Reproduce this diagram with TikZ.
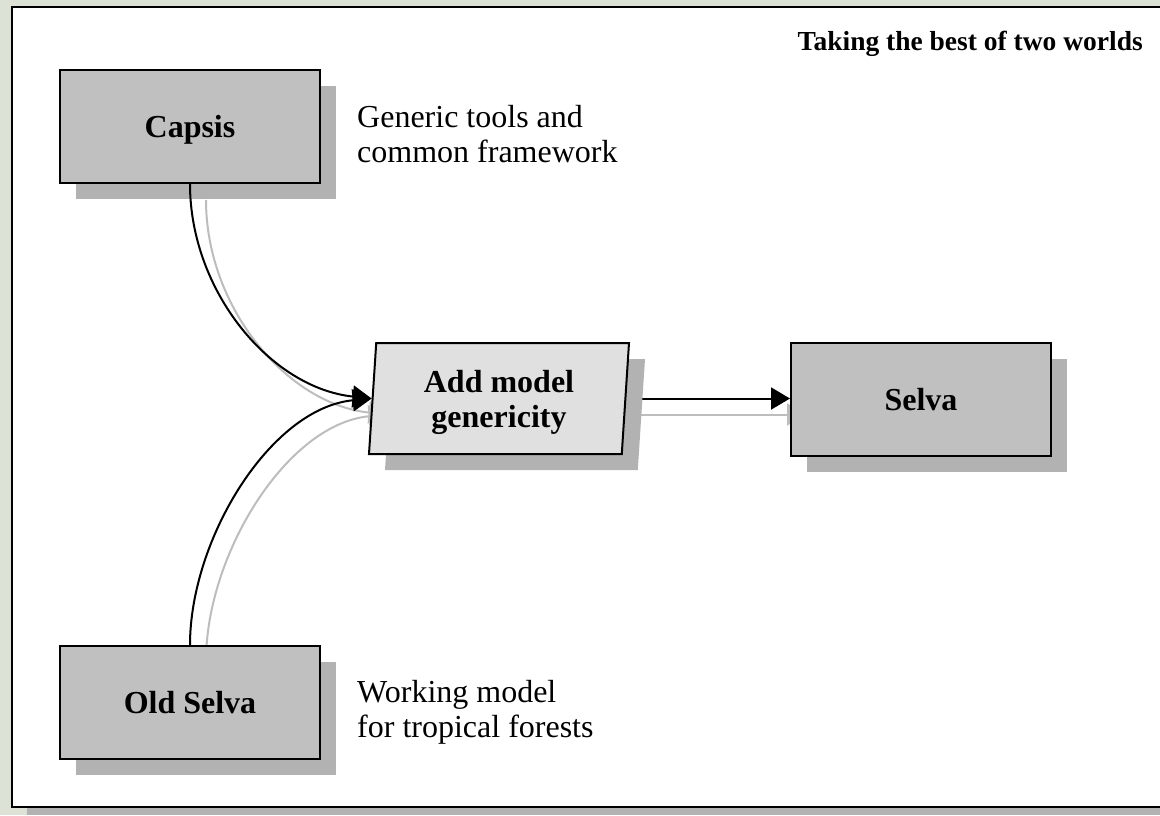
\documentclass[tikz,border=0pt]{standalone}
\usepackage{fontspec}
\setmainfont{Liberation Serif}
\usetikzlibrary{shapes.geometric,arrows.meta,shadows}
\pgfdeclarelayer{bgzero}
\pgfdeclarelayer{bgone}
\pgfsetlayers{bgzero,bgone,main}
\definecolor{boxgray}{HTML}{C0C0C0}
\definecolor{shgray}{HTML}{B2B2B2}
\definecolor{paragray}{HTML}{E0E0E0}
\definecolor{texture}{HTML}{DCE3D6}
\definecolor{conshade}{HTML}{BDBDBD}
\tikzset{
  boxshadow/.style={general shadow={shadow xshift=16pt, shadow yshift=-16pt, fill=shgray, draw=none}},
  nodebox/.style={draw, line width=2pt, fill=boxgray, minimum width=260pt, minimum height=113pt,
    inner sep=0pt, text depth=0pt, font=\bfseries\fontsize{32}{35}\selectfont, boxshadow},
  parabox/.style={trapezium, trapezium left angle=82.8, trapezium right angle=97.2,
    trapezium stretches body, draw, line width=2pt, fill=paragray,
    minimum width=260pt, minimum height=111pt, inner sep=0pt, align=center, text depth=0pt,
    font=\bfseries\fontsize{32}{35}\selectfont, boxshadow},
  desc/.style={inner sep=0pt, align=left, font=\fontsize{32}{35}\selectfont},
  titletext/.style={inner sep=0pt, font=\bfseries\fontsize{27.5}{32}\selectfont},
  con/.style={line width=2pt, -{Triangle[length=19pt,width=22pt]}},
  conshadow/.style={con, draw=conshade, transform canvas={shift={(16,16)}}}
}
\begin{document}
\begin{tikzpicture}[x=1pt,y=-1pt]
\useasboundingbox (0,0) rectangle (1160,815);
\begin{pgfonlayer}{bgzero}
  \fill[texture] (0,0) rectangle (1160,815);
  \fill[shgray] (27,807) rectangle (1160,815);
  \draw[line width=2pt, fill=white] (12,6.5) rectangle (1180,807);
\end{pgfonlayer}

\node[nodebox] (capsis) at (190,126.5) {Capsis};
\node[nodebox] (oldselva) at (190,702.5) {Old Selva};
\node[nodebox] (selva) at (921,399.5) {Selva};
\node[parabox] (add) at (499,398.5) {Add model\\genericity};

\node[titletext, anchor=base east] (title) at (1143,50) {Taking the best of two worlds};
\node[desc, anchor=north west] (capsisdesc) at (357,105) {Generic tools and\\common framework};
\node[desc, anchor=north west] (oldselvadesc) at (357,680) {Working model\\for tropical forests};

\begin{pgfonlayer}{bgone}
  \draw[conshadow] (capsis.south) .. controls +(0,107) and +(-101,-10.5) .. (add.west);
  \draw[conshadow] (oldselva.north) .. controls +(0,-106) and +(-101,9.5) .. (add.west);
  \draw[conshadow] (add.center) -- (add.center -| selva.west);
  \draw[con] (add.center) -- (add.center -| selva.west);
\end{pgfonlayer}

\draw[con] (capsis.south) .. controls +(0,107) and +(-101,-10.5) .. (add.west);
\draw[con] (oldselva.north) .. controls +(0,-106) and +(-101,9.5) .. (add.west);
\end{tikzpicture}
\end{document}
